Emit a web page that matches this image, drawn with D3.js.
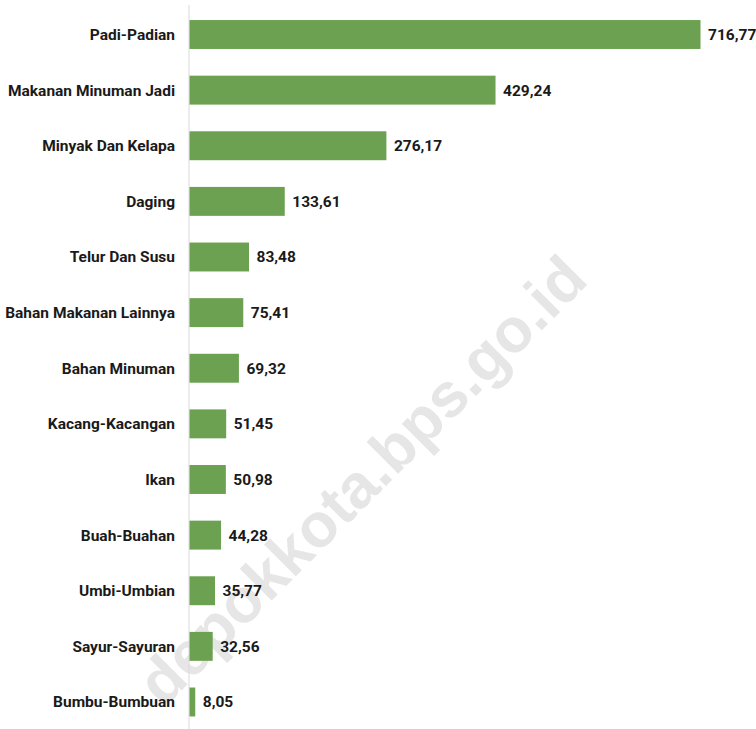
<!DOCTYPE html>
<html>
<head>
<meta charset="utf-8">
<script src="https://cdn.jsdelivr.net/npm/d3@7"></script>
<style>
  html, body { margin: 0; padding: 0; background: #ffffff; }
  svg { display: block; }
  .lbl { font-family: Roboto, "Liberation Sans", sans-serif; font-weight: bold; font-size: 15.5px; fill: #1a1a1a; }
</style>
</head>
<body>
<svg id="chart" width="756" height="729"></svg>
<script>
const categories = ["Padi-Padian", "Makanan Minuman Jadi", "Minyak Dan Kelapa", "Daging", "Telur Dan Susu",
  "Bahan Makanan Lainnya", "Bahan Minuman", "Kacang-Kacangan", "Ikan", "Buah-Buahan",
  "Umbi-Umbian", "Sayur-Sayuran", "Bumbu-Bumbuan"];
const values = [716.77, 429.24, 276.17, 133.61, 83.48, 75.41, 69.32, 51.45, 50.98, 44.28, 35.77, 32.56, 8.05];
const valueLabels = ["716,77", "429,24", "276,17", "133,61", "83,48", "75,41", "69,32", "51,45", "50,98", "44,28", "35,77", "32,56", "8,05"];
const watermark = "depokkota.bps.go.id";

const svg = d3.select("#chart");
const x0 = 189;

const x = d3.scaleLinear().domain([0, 716.77]).range([x0, 700]);
const y = d3.scaleBand().domain(categories).range([6.7, 729.8]).paddingInner(0.48).paddingOuter(0.24);

// watermark
svg.append("text")
  .attr("transform", "translate(590,282) rotate(-45)")
  .attr("text-anchor", "end")
  .style("font-family", "'Liberation Sans', Arial, sans-serif")
  .style("font-weight", "bold")
  .style("font-size", "62px")
  .style("fill", "#e6e6e6")
  .text(watermark);

// axis line
svg.append("line")
  .attr("x1", x0).attr("x2", x0)
  .attr("y1", 5).attr("y2", 729)
  .attr("stroke", "#d9d9d9").attr("stroke-width", 1);

// bars
svg.selectAll("rect.bar").data(values).join("rect")
  .attr("class", "bar")
  .attr("x", x(0) + 0.5)
  .attr("y", (d, i) => y(categories[i]))
  .attr("width", d => x(d) - x(0))
  .attr("height", y.bandwidth())
  .attr("fill", "#6ba150");

// category labels
svg.selectAll("text.cat").data(categories).join("text")
  .attr("class", "lbl cat")
  .attr("x", x0 - 14)
  .attr("y", d => y(d) + y.bandwidth() / 2)
  .attr("dy", "0.35em")
  .attr("text-anchor", "end")
  .text(d => d);

// value labels
svg.selectAll("text.val").data(values).join("text")
  .attr("class", "lbl val")
  .attr("x", d => x(d) + 8)
  .attr("y", (d, i) => y(categories[i]) + y.bandwidth() / 2)
  .attr("dy", "0.35em")
  .text((d, i) => valueLabels[i]);
</script>
</body>
</html>
